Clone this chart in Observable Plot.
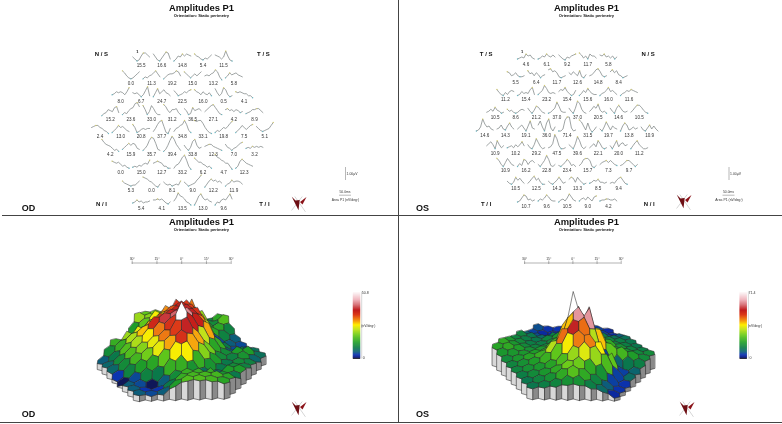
<!DOCTYPE html>
<html><head><meta charset="utf-8">
<script src="https://cdn.jsdelivr.net/npm/d3@7"></script>
<script src="https://cdn.jsdelivr.net/npm/@observablehq/plot@0.6"></script>
<style>
html,body{margin:0;padding:0;background:#fff;width:782px;height:424px;overflow:hidden;font-family:"Liberation Sans",Arial,sans-serif}
.panel{position:absolute}
.panel svg{display:block;filter:blur(.35px);background:transparent}
.rule{position:absolute;background:#444}
</style></head><body>
<script>
// ---- 61-element field: row sizes, amplitudes (nV/deg2) as printed ----
const rowSizes = [5,6,7,8,9,8,7,6,5];
const valuesOD = [15.5,16.6,14.8,5.4,11.5, 0.0,11.3,19.2,15.0,13.2,5.8, 8.0,6.7,24.7,22.5,16.0,0.5,4.1,
  15.2,23.6,33.0,31.2,36.5,27.1,4.2,8.9, 2.4,13.0,20.8,37.7,34.8,33.1,19.8,7.5,5.1,
  4.2,15.9,35.7,39.4,33.8,12.3,7.0,3.2, 0.0,15.0,12.7,33.2,6.2,4.7,12.3, 5.3,0.0,8.1,9.0,12.2,11.9, 5.4,4.1,13.5,13.0,9.6];
const valuesOS = [4.6,6.1,9.2,11.7,5.8, 5.5,6.4,11.7,12.6,14.8,8.4, 11.2,15.4,23.2,15.4,15.6,16.0,11.6,
  10.5,8.6,21.2,37.0,37.0,20.5,14.6,10.5, 14.6,14.3,19.1,36.0,71.4,31.5,19.7,13.8,10.9,
  10.9,10.2,29.2,47.5,39.6,22.1,20.0,11.2, 10.9,16.2,22.8,23.4,15.7,7.3,9.7, 10.5,12.5,14.3,13.3,8.5,9.4, 10.7,9.6,10.5,9.0,4.2];
// ---- traces read by eye, one per element, in the same order ----
const tracesOD = [
[5,3,1,2,6,9,9,7,5],[8,5,2,1,4,7,10,9,3],[1,3,6,5,8,6,8,7,6],[8,6,5,3,2,4,3,5,7],[7,6,5,3,5,11,6,2,1],
[9,7,4,2,1,2,4,6,8],[1,3,2,4,5,7,9,6,3],[1,3,5,6,6,7,9,8,4],[8,6,4,2,4,6,4,6,8],[4,5,4,6,7,10,8,3,0],[2,4,7,5,6,7,5,4,3],
[3,4,6,5,6,5,3,6,10],[5,4,5,3,1,3,7,11,2],[1,5,9,4,6,8,5,4,2],[7,5,2,3,4,6,5,7,8],[8,6,5,3,6,4,3,5,2],[9,5,2,4,10,8,3,1,2],[6,5,6,5,4,4,2,2,0],
[0,2,3,6,5,4,8,9,3],[1,3,2,5,7,8,12,13,9],[10,6,1,4,10,7,3,1,1],[11,9,5,3,6,6,7,3,1],[7,5,1,2,8,5,6,7,5],[4,6,8,10,11,8,5,2,1],[6,7,5,6,4,6,5,3,4],[2,3,4,6,6,7,7,5,3],
[6,7,8,8,6,5,3,2,0],[1,3,5,8,6,7,5,3,2],[9,6,1,2,4,5,4,5,5],[2,5,9,12,13,7,1,0,5],[2,5,6,8,9,13,9,3,1],[13,12,13,13,10,6,3,1,0],[1,3,2,4,6,5,7,10,12],[1,3,5,8,6,4,6,8,9],[7,5,3,2,3,4,5,8,11],
[12,9,7,6,5,3,1,2,0],[2,4,6,8,6,8,7,3,2],[1,3,6,11,14,13,8,2,1],[0,2,6,11,15,12,7,4,1],[6,3,1,4,10,12,6,3,4],[5,6,7,7,5,4,3,2,1],[7,4,3,1,3,4,6,8,9],[3,4,3,5,4,5,4,5,4],
[8,7,6,7,5,3,4,2,1],[2,3,2,4,3,5,6,5,9],[6,7,8,7,6,3,3,1,1],[1,4,5,8,12,14,9,3,0],[11,9,7,7,5,4,2,3,1],[15,12,11,9,8,6,6,3,0],[1,3,8,10,8,6,5,4,3],
[6,4,3,2,1,2,2,4,6],[10,9,8,6,5,3,1,0,3],[5,3,2,3,1,2,3,2,6],[5,3,1,2,3,4,7,9,12],[0,3,6,8,6,7,5,6,4],[1,3,4,7,5,6,6,5,3],
[2,3,5,3,4,2,3,3,4],[5,5,6,5,6,4,2,1,3],[4,7,12,9,8,6,3,2,0],[0,4,9,11,7,5,6,4,3],[0,3,2,5,6,5,8,11,6]];
const tracesOS = [
[2,3,4,3,7,5,6,3,2],[2,3,5,4,7,5,4,6,4],[6,4,2,1,4,3,5,6,7],[8,6,3,5,2,7,5,5,3],[6,5,7,4,5,3,5,2,4],
[7,6,3,4,6,3,2,2,3],[8,5,6,3,6,4,1,3,4],[9,10,7,8,6,2,1,2,3],[6,4,7,5,3,8,2,1,4],[3,4,6,9,10,7,3,2,3],[7,9,6,8,4,3,1,2,3],
[7,4,2,1,4,2,5,6,5],[1,2,5,3,4,3,7,9,2],[2,4,6,11,8,4,3,4,3],[5,7,6,9,5,3,1,2,6],[1,3,6,4,8,5,3,2,2],[1,3,4,6,9,5,6,4,2],[1,3,4,6,5,7,6,5,4],
[2,3,5,3,7,4,3,1,2],[5,3,4,2,1,2,4,5,4],[6,3,1,4,8,7,4,2,1],[1,2,4,6,12,8,3,2,2],[6,3,1,6,13,11,5,2,1],[3,5,8,6,10,4,2,3,1],[6,3,1,6,9,6,3,2,3],[2,4,7,9,9,7,4,2,1],
[1,2,5,13,8,5,6,3,2],[3,4,7,3,2,6,9,5,3],[3,5,7,4,1,6,11,4,3],[7,11,5,1,9,13,4,1,5],[1,1,3,12,15,15,4,1,2],[12,10,6,2,9,3,0,2,5],[3,1,5,10,6,2,6,4,3],[1,6,9,7,2,3,5,3,4],[5,2,1,4,7,3,6,3,1],
[4,6,8,5,1,9,5,2,4],[2,3,4,2,5,3,5,8,4],[5,2,1,5,11,7,3,1,2],[2,3,6,15,11,4,1,1,2],[5,3,1,6,13,9,3,1,3],[2,4,6,3,9,6,2,1,2],[4,1,5,9,3,6,7,4,5],[1,4,7,9,5,3,1,1,2],
[9,7,3,1,5,9,6,3,2],[1,4,2,8,7,3,6,7,5],[3,1,4,7,12,8,2,1,3],[2,1,3,5,8,6,2,3,1],[2,4,8,9,9,7,1,0,2],[3,5,6,7,5,7,5,3,2],[2,3,5,7,7,5,3,1,3],
[4,2,1,3,8,5,7,4,2],[2,4,7,9,5,7,3,1,1],[4,2,1,3,5,8,5,2,3],[6,8,7,3,8,5,3,1,2],[2,3,5,4,6,3,3,2,3],[2,3,2,5,7,8,5,2,1],
[1,2,5,8,7,3,4,2,3],[2,4,3,5,8,6,3,2,2],[1,3,4,2,5,9,6,3,2],[2,4,5,3,6,4,2,6,7],[2,3,3,4,4,3,3,4,2]];
// ---- hex surface heights, back row first ----
const surfaceOD = [
[17,18,17,17,15,10,9,13],
[20,19,18,19,26,30,20,10,16],
[12,17,25,29,34,33,24,12,13,9],
[6,14,20,26,32,36,33,24,13,9,5],
[8,12,16,21,32,36,37,34,22,4,5,4],
[14,20,24,28,34,37,39,37,30,13,8,4,4],
[10,14,21,27,35,38,40,42,36,28,14,5,8,7],
[5,8,16,21,25,30,34,50.8,36,22,13,10,12,12,7],
[6,10,16,19,24,30,33,37,28,18,10,9,11,6],
[6,10,15,18,24,28,34,28,19,12,8,10,9],
[3,9,12,13,17,25,25,14,11,8,10,9],
[0.5,4,9,8,14,14,11,7,6,12,12],
[5,4,0.5,5,10,14,14,14,11,8],
[5,3,3,8,14,15,15,15,13],
[5,4,5,12,16,16,15,13]];
const surfaceOS = [
[6,4,4,7,12,9,5,3],
[5,3,3,5,11,12,9,5,3],
[8,6,4,6,12,14,12,10,6,7],
[13,11,9,12,15,18,15,13,12,10,10],
[13,12,11,13,16,28,28,16,14,13,12,11],
[16,14,12,12,14,20,40,20,14,13,13,12,11],
[19,16,14,13,14,19,30,52,52,30,19,15,13,12],
[18,19,17,15,16,22,38,71.4,38,22,17,16,15,14,14],
[16,16,16,17,19,24,38,60,60,38,24,21,17,14],
[14,16,18,20,30,43,52,43,30,5,8,11,12],
[13,15,17,20,24,35,42,42,35,24,5,8],
[13,15,16,18,22,28,33,28,22,5,9],
[12,14,16,19,25,25,19,15,5,4],
[11,13,15,19,23,19,13,7,4],
[11,12,13,15,15,12,9,3]];
const colorStops = [0,0.02,0.06,0.1,0.16,0.24,0.34,0.44,0.5,0.56,0.65,0.72,0.8,0.88,1];
const colorRange = ["#141428","#0a1a8c","#0b35b0","#0c5f78","#0a7a48","#1f9e28","#62c81a","#c8e41a","#ffee00","#f59a10","#dd3a18","#c01a1a","#d8737a","#f0b8c0","#ffffff"];
const degreeTicks = [-30,-15,0,15,30];
const eyes = {
  OD:{values:valuesOD,traces:tracesOD,surface:surfaceOD,corners:["N / S","T / S","N / I","T / I"],max:50.8,maxLabel:"50.8",zs:1.2},
  OS:{values:valuesOS,traces:tracesOS,surface:surfaceOS,corners:["T / S","N / S","T / I","N / I"],max:71.4,maxLabel:"71.4",zs:1.0}
};
const W1=398,W2=384,H1=216,H2=208;
const font="Liberation Sans, Arial, sans-serif";
function note(t,px,py,size,opts={}){return Plot.text([t],{frameAnchor:"top-left",dx:px,dy:py,text:d=>d,fontSize:size,textAnchor:"middle",lineAnchor:"middle",fill:"#111",fontFamily:font,...opts});}
function logoMarks(fx,fy,cx,cy){
  const big=[[-6.7,-6.7],[-3,-3],[1.2,-3.4],[0,6.7]], small=[[1.5,-1.5],[8,-6.5],[4,1]];
  const g1=[[-6.7,6.7],[3.5,-6.7]], g2=[[-3.5,-6.7],[6.7,8]];
  const at=p=>({x:fx(cx+p[0]),y:fy(cy+p[1])});
  return [
    Plot.line(g1.map(at),{x:"x",y:"y",stroke:"#d6d6d6",strokeWidth:1}),
    Plot.line(g2.map(at),{x:"x",y:"y",stroke:"#d6d6d6",strokeWidth:1}),
    Plot.line(big.map(at),{x:"x",y:"y",fill:"#6e0f14",stroke:"none",curve:"linear-closed"}),
    Plot.line(small.map(at),{x:"x",y:"y",fill:"#8a1218",stroke:"none",curve:"linear-closed"})
  ];
}
function fieldPlot(eye,w,h,o){
  const spacing=20.6,step=o.step;
  const fx=p=>(p-o.cx)/spacing, fy=p=>(p-o.y0)/step;
  const cells=[];let k=0;
  rowSizes.forEach((n,r)=>{for(let c=0;c<n;c++){cells.push({col:c-(n-1)/2,row:r,value:eye.values[k],trace:eye.traces[k],id:k});k++;}});
  const tx=(c,i)=>c.col+(i/(c.trace.length-1)-.5)*.82, ty=(c,i)=>c.row-(c.trace[i]+3.5)/step;
  const pts=cells.flatMap(c=>c.trace.map((a,i)=>({id:c.id,x:tx(c,i),y:ty(c,i)})));
  const peaks=cells.map(c=>{const i=d3.greatestIndex(c.trace);return {x:tx(c,i),y:ty(c,i)};});
  const troughs=cells.map(c=>{const i=d3.leastIndex(c.trace);return {x:tx(c,i),y:ty(c,i)};});
  const [c1,c2,c3,c4]=eye.corners;
  return Plot.plot({width:w,height:h,margin:0,
    x:{domain:[fx(0),fx(w)],axis:null},y:{domain:[fy(0),fy(h)],range:[0,h],axis:null},
    style:{background:"transparent",fontFamily:font},
    marks:[
      Plot.line(pts,{x:"x",y:"y",z:"id",stroke:"#7f8585",strokeWidth:.75}),
      Plot.dot(peaks,{x:"x",y:"y",r:.7,fill:"#d9cf6a",fillOpacity:.8}),
      Plot.dot(troughs,{x:"x",y:"y",r:.7,fill:"#5fb7c4",fillOpacity:.8}),
      Plot.text(cells,{x:"col",y:"row",text:d=>d.value.toFixed(1),fontSize:4.6,fill:"#333",fontFamily:font}),
      note(c1,o.cx-81,54,6,{fontWeight:"bold"}),note(c2,o.cx+81,54,6,{fontWeight:"bold"}),
      note(c3,o.cx-81,204,6,{fontWeight:"bold"}),note(c4,o.cx+82,204,6,{fontWeight:"bold"}),
      note("1",o.cx-45,51.5,4,{fontWeight:"bold"}),
      note("Amplitudes P1",o.title,7,9.4,{fontWeight:"bold"}),
      note("Orientation: Static perimetry",o.title,15,4.1,{fontWeight:"bold"}),
      note(o.name,o.lab,208,9,{fontWeight:"bold"}),
      Plot.ruleX([fx(o.bar)],{y1:fy(167),y2:fy(180),stroke:"#888",strokeWidth:.6}),
      Plot.ruleY([fy(194.7)],{x1:fx(o.bar-6),x2:fx(o.bar+6),stroke:"#888",strokeWidth:.6}),
      note("1.00µV",o.bar+6.5,173.5,3.4,{fill:"#333"}),
      note("50.0ms",o.bar-.5,191.5,3.4,{fill:"#333"}),
      note("Area P1 (nV/deg²)",o.bar,199,3.4,{fill:"#333"}),
      ...logoMarks(fx,fy,o.logo[0],o.logo[1])
    ]});
}
function surfacePlot(eye,w,h,o){
  const pxDeg=o.pxDeg, fx=p=>(p-o.axisCx)/pxDeg;
  const cellW=o.cellW, cy=149, depth=35, persp=.08;
  const cells=[];
  const vKey=(X,R)=>Math.round(X*2)+"_"+Math.round(R*3);
  const adj=new Map();
  const edgeOwner=new Map();
  const offs=[[0,-2/3],[.5,-1/3],[.5,1/3],[0,2/3],[-.5,1/3],[-.5,-1/3]];
  eye.surface.forEach((row,r)=>row.forEach((val,i)=>{
    const X=i-(row.length-1)/2;
    const cell={X,R:r,val,id:r*100+i};
    cells.push(cell);
    offs.forEach(([a,b])=>{const key=vKey(X+a,r+b);if(!adj.has(key))adj.set(key,[]);adj.get(key).push(val);});
    offs.forEach(([a,b],j)=>{const [a2,b2]=offs[(j+1)%6];const e=[vKey(X+a,r+b),vKey(X+a2,r+b2)].sort().join("|");edgeOwner.set(e,(edgeOwner.get(e)||0)+1);});
  }));
  const project=(X,R,z)=>{const v=(7-R)/7.67,s=1-persp*v;
    return {x:fx(o.cx+X*cellW*s),y:cy-depth*v+o.tilt*X/7.5-z*eye.zs};};
  const vZ=(X,R)=>d3.mean(adj.get(vKey(X,R)));
  const tops=[],wallsL=[],wallsR=[];
  for(const c of cells){
    offs.forEach(([a,b],j)=>{
      let z=vZ(c.X+a,c.R+b);
      if(j===0) z=Math.max(z,c.val*.96+z*.04);
      const p=project(c.X+a,c.R+b,z);
      tops.push({id:c.id,val:c.val,...p});
      const [a2,b2]=offs[(j+1)%6];
      const e=[vKey(c.X+a,c.R+b),vKey(c.X+a2,c.R+b2)].sort().join("|");
      const facing=(j===2||j===3);
      if(facing&&edgeOwner.get(e)===1){
        const z2=vZ(c.X+a2,c.R+b2);
        const q=[project(c.X+a,c.R+b,z),project(c.X+a2,c.R+b2,z2),project(c.X+a2,c.R+b2,0),project(c.X+a,c.R+b,0)];
        (j===2?wallsR:wallsL).push(...q.map(pt=>({id:c.id,...pt})));
      }
    });
  }
  const levels=d3.range(0,1.0001,1/66);
  const barB=o.barTop+67;
  const stroke={stroke:"#262626",strokeWidth:.55,strokeLinejoin:"round"};
  return Plot.plot({width:w,height:h,margin:0,
    x:{domain:[fx(0),fx(w)],axis:null},y:{domain:[0,h],range:[0,h],axis:null},
    color:{type:"linear",domain:colorStops.map(f=>f*eye.max),range:colorRange,clamp:true},
    style:{background:"transparent",fontFamily:font},
    marks:[
      Plot.line(wallsR,{x:"x",y:"y",z:"id",fill:"#8a8a8a",...stroke,curve:"linear-closed"}),
      Plot.line(wallsL,{x:"x",y:"y",z:"id",fill:"#d8d8d8",...stroke,curve:"linear-closed"}),
      Plot.line(tops,{x:"x",y:"y",z:"id",fill:"val",...stroke,curve:"linear-closed"}),
      Plot.ruleY([46.5],{x1:-30,x2:30,stroke:"#666",strokeWidth:.5}),
      Plot.ruleX(degreeTicks,{x:d=>d,y1:44.5,y2:48,stroke:"#666",strokeWidth:.5}),
      Plot.text(degreeTicks,{x:d=>d,y:42.5,text:d=>Math.abs(d)+"°",fontSize:3.4,fill:"#333",fontFamily:font}),
      Plot.rect(levels,{x1:fx(o.bar),x2:fx(o.bar+7.4),y1:f=>barB-f*67-1.2,y2:f=>barB-f*67+.2,fill:f=>f*eye.max}),
      Plot.ruleX([fx(o.bar+8.4)],{y1:o.barTop,y2:barB,stroke:"#999",strokeWidth:.4}),
      note(eye.maxLabel,o.bar+12,o.barTop+1,3.6,{fill:"#333"}),
      note("(nV/deg²)",o.bar+15,o.barTop+33.5,3.4,{fill:"#333"}),
      note("0",o.bar+10.5,barB-1,3.6,{fill:"#333"}),
      note("Amplitudes P1",o.title,5,9.4,{fontWeight:"bold"}),
      note("Orientation: Static perimetry",o.title,13,4.1,{fontWeight:"bold"}),
      note(o.name,o.lab,198,9,{fontWeight:"bold"}),
      ...logoMarks(p=>fx(p),p=>p,o.logo[0],o.logo[1])
    ]});
}
function mount(node,l,t){const d=document.createElement("div");d.className="panel";d.style.left=l+"px";d.style.top=t+"px";d.appendChild(node);document.body.appendChild(d);}
function rule(l,t,w,h){const d=document.createElement("div");d.className="rule";d.style.cssText=`left:${l}px;top:${t}px;width:${w}px;height:${h}px`;document.body.appendChild(d);}
mount(fieldPlot(eyes.OD,W1,H1,{name:"OD",cx:181.9,y0:65,step:17.87,title:201,lab:28,bar:345,logo:[298,203]}),0,0);
mount(fieldPlot(eyes.OS,W2,H1,{name:"OS",cx:168.7,y0:64,step:17.75,title:188,lab:24,bar:330.5,logo:[285,201]}),398,0);
mount(surfacePlot(eyes.OD,W1,H2,{name:"OD",cx:181,axisCx:181.2,pxDeg:1.65,cellW:11.2,title:201,lab:28,bar:352.8,barTop:75.7,tilt:-2.5,logo:[298,192]}),0,216);
mount(surfacePlot(eyes.OS,W2,H2,{name:"OS",cx:174.8,axisCx:174.4,pxDeg:1.61,cellW:10.8,title:188,lab:24,bar:341.5,barTop:75.7,tilt:1.5,logo:[288,192]}),398,216);
rule(398.2,0,1,423);rule(2,215.2,780,1);rule(0,422.2,782,1);
</script>
</body></html>
